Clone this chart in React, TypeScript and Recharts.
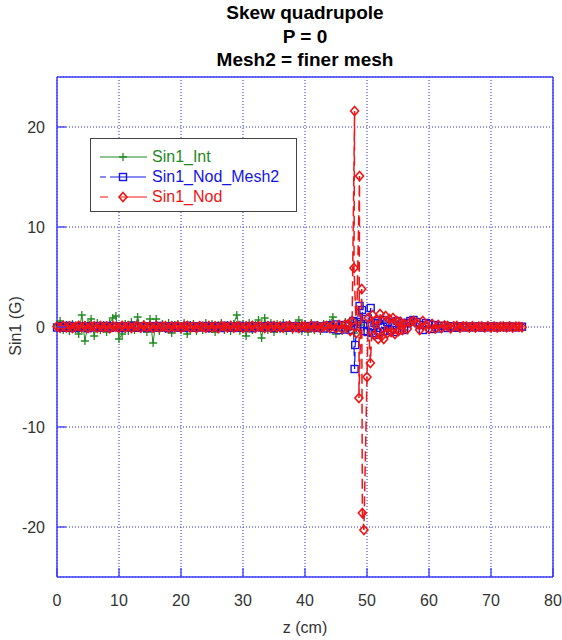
import React from "react";
import { ScatterChart, Scatter, XAxis, YAxis, CartesianGrid, Legend } from "recharts";

// z step of the exported mesh nodes (cm)
const zStep = 0.5;

// Sin1_Int, z = 0 .. 49
const intStart = 0;
const sin1Int = [
  0.1, 0.6, -0.3, 0.2, -0.4, 0.3, -0.2, -0.7, 1.2, -1.4,
  0.3, 0.8, -0.9, 0.4, -0.3, 0.2, -0.5, 0.4, 0.9, 1.1,
  -1.2, -0.7, 0.3, -0.4, 0.5, -0.3, 1.0, -0.2, 0.3, -0.5,
  0.8, -1.6, 0.8, -0.4, 0.3, -0.2, 0.4, -0.6, 0.2, 0.3,
  -0.3, 0.4, -0.7, 0.2, 0.3, -0.4, 0.2, -0.3, 0.4, -0.2,
  0.3, -0.5, 0.2, 0.4, -0.3, 0.2, -0.4, 0.3, 1.2, -0.4,
  0.3, -0.9, 0.4, -0.3, 0.2, 0.7, -1.1, 0.9, -0.3, 0.4,
  -0.5, 0.3, -0.2, 0.4, -0.4, 0.3, -0.3, 0.2, 0.7, -0.4,
  0.3, -0.5, 0.4, -0.3, 0.2, -0.4, 0.3, -0.2, 0.4, 1.0,
  -0.7, 0.3, -0.4, 0.5, -0.3, 0.4, -0.6, 0.5, 0.2,
];

// Sin1_Nod, left part z = 0 .. 46.5
const nodLeftStart = 0;
const sin1NodLeft = [
  0.05, -0.08, 0.1, -0.05, 0.08, -0.1, 0.04, 0.12, -0.06, 0.09,
  -0.11, 0.05, 0.07, -0.09, 0.1, -0.04, 0.06, -0.12, 0.08, 0.03,
  -0.07, 0.11, -0.05, 0.09, -0.1, 0.04, 0.07, -0.08, 0.12, -0.03,
  0.06, -0.09, 0.1, -0.06, 0.05, 0.08, -0.11, 0.07, -0.04, 0.09,
  -0.08, 0.05, 0.11, -0.07, 0.06, -0.1, 0.08, 0.03, -0.09, 0.1,
  -0.05, 0.07, -0.12, 0.09, 0.04, -0.06, 0.11, -0.08, 0.05, 0.07,
  -0.1, 0.06, -0.04, 0.12, -0.07, 0.08, 0.05, -0.11, 0.09, -0.06,
  0.1, -0.03, 0.07, -0.09, 0.06, 0.11, -0.08, 0.04, -0.1, 0.09,
  0.05, -0.07, 0.12, -0.05, 0.08, -0.11, 0.06, 0.1, -0.08, 0.15,
  -0.12, 0.2, -0.18, 0.25,
];
// Sin1_Nod around the quadrupole edge (nodes are not sorted)
const nodSpikeZ = [
  47.0, 47.3, 47.6, 48.0, 47.9, 48.3, 48.8, 48.7, 49.15, 49.25,
  49.5, 50.0, 50.2, 50.55, 50.9, 51.2, 51.5, 51.8, 52.1, 52.4,
  52.7, 53.0, 53.3, 53.6, 53.9, 54.2, 54.5, 54.8, 55.1, 55.4, 55.7,
];
const sin1NodSpike = [
  0.3, -0.4, 0.6, 21.6, 5.9, -0.6, 15.1, -7.1, 3.8, -18.6,
  -20.3, -5.0, 0.9, -3.6, 1.2, -0.8, 0.7, -1.2, 1.3, -0.9,
  -1.2, 1.1, -0.6, 0.8, -0.5, 0.9, -0.7, 0.6, -0.4, 0.5, -0.3,
];
// Sin1_Nod, right part z = 56 .. 75
const nodRightStart = 56;
const sin1NodRight = [
  0.3, -0.2, 0.5, 0.6, 0.4, -0.3, 0.6, 0.2, -0.2, 0.3,
  -0.15, 0.2, -0.1, 0.15, 0.1, -0.12, 0.08, 0.1, -0.08, 0.06,
  0.05, -0.06, 0.08, -0.05, 0.04, 0.06, -0.05, 0.07, -0.04, 0.05,
  -0.06, 0.04, 0.05, -0.03, 0.06, -0.05, 0.04, 0.03, -0.02,
];

// Sin1_Nod_Mesh2
const mesh2Left = [
  -0.05, 0.1, -0.08, 0.06, 0.12, -0.1, 0.04, -0.07, 0.09, 0.05,
  -0.12, 0.08, -0.04, 0.1, -0.06, 0.07, 0.11, -0.09, 0.05, -0.03,
  0.08, -0.11, 0.06, 0.09, -0.05, 0.12, -0.08, 0.04, 0.07, -0.1,
  0.05, 0.09, -0.06, 0.11, -0.04, 0.08, -0.12, 0.06, 0.1, -0.07,
  0.04, -0.09, 0.12, 0.05, -0.08, 0.07, -0.05, 0.1, 0.06, -0.11,
  0.09, -0.04, 0.08, -0.1, 0.12, 0.05, -0.07, 0.06, -0.09, 0.11,
  0.04, -0.06, 0.1, -0.12, 0.07, 0.09, -0.05, 0.08, -0.04, 0.12,
  -0.1, 0.06, 0.05, -0.08, 0.11, -0.07, 0.09, 0.04, -0.11, 0.08,
  -0.06, 0.1, -0.05, 0.14, -0.1, 0.07, -0.15, 0.12, 0.18, -0.2,
  0.25, -0.3, 0.2, -0.25,
];
const mesh2SpikeZ = [
  47.0, 47.4, 47.8, 48.0, 48.1, 48.4, 48.8, 49.0, 49.2, 49.5,
  49.8, 50.1, 50.6, 50.9, 51.2, 51.5, 51.8, 52.1, 52.5, 52.9,
  53.3, 53.7, 54.1, 54.5, 54.9, 55.3, 55.7,
];
const mesh2Spike = [
  0.1, -0.3, 0.6, -4.2, -1.8, 0.5, 2.1, 0.3, 1.7, -0.4,
  0.8, -0.5, 1.9, -0.6, 0.4, -0.8, 0.6, -0.5, 0.7, -0.4,
  0.5, -0.3, 0.4, -0.5, 0.6, -0.3, 0.4,
];
const mesh2Right = [
  -0.3, 0.4, 0.6, 0.7, 0.5, 0.2, -0.3, 0.4, 0.3, -0.2,
  0.2, -0.15, 0.12, 0.1, -0.1, 0.08, 0.06, -0.08, 0.05, 0.07,
  -0.05, 0.06, -0.04, 0.05, 0.04, -0.06, 0.05, -0.03, 0.04, 0.06,
  -0.05, 0.03, 0.04, -0.04, 0.05, 0.03, -0.04, 0.02, 0.03,
];

const xTicks = [0, 10, 20, 30, 40, 50, 60, 70, 80];
const yTicks = [-20, -10, 0, 10, 20];

const GREEN = "#1f8a1f";
const BLUE = "#1414e6";
const RED = "#f01414";
const AXIS = "#3c3cff";
const GRID = "#2a2ad8";
const FONT = "'Liberation Sans', Arial, sans-serif";

const onGrid = (start: number, vals: number[]) => vals.map((v, i) => ({ z: start + i * zStep, v }));
const paired = (zs: number[], vals: number[]) => zs.map((z, i) => ({ z, v: vals[i] }));

const intData = onGrid(intStart, sin1Int);
const nodData = [
  ...onGrid(nodLeftStart, sin1NodLeft),
  ...paired(nodSpikeZ, sin1NodSpike),
  ...onGrid(nodRightStart, sin1NodRight),
];
const mesh2Data = [
  ...onGrid(nodLeftStart, mesh2Left),
  ...paired(mesh2SpikeZ, mesh2Spike),
  ...onGrid(nodRightStart, mesh2Right),
];

const Cross = ({ cx, cy }: any) => (
  <path d={`M${cx - 4},${cy}H${cx + 4}M${cx},${cy - 4}V${cy + 4}`} stroke={GREEN} strokeWidth={1.3} fill="none" />
);
const Square = ({ cx, cy }: any) => (
  <rect x={cx - 3.5} y={cy - 3.5} width={7} height={7} stroke={BLUE} strokeWidth={1.4} fill="none" />
);
const Diamond = ({ cx, cy }: any) => (
  <path d={`M${cx},${cy - 4.5}L${cx + 4},${cy}L${cx},${cy + 4.5}L${cx - 4},${cy}Z`} stroke={RED} strokeWidth={1.6} fill="none" />
);

const BottomTick = ({ x, y, payload }: any) => (
  <g>
    <line x1={x} y1={y} x2={x} y2={y - 9} stroke={AXIS} strokeWidth={1.3} />
    <text x={x} y={y + 29} textAnchor="middle" fontSize={16} fill="#333" fontFamily={FONT}>
      {payload.value}
    </text>
  </g>
);
const LeftTick = ({ x, y, payload }: any) => (
  <g>
    <line x1={x} y1={y} x2={x + 9} y2={y} stroke={AXIS} strokeWidth={1.3} />
    <text x={x - 12} y={y + 6} textAnchor="end" fontSize={16} fill="#333" fontFamily={FONT}>
      {payload.value}
    </text>
  </g>
);
const TopTick = ({ x, y }: any) => <line x1={x} y1={y} x2={x} y2={y + 9} stroke={AXIS} strokeWidth={1.3} />;
const RightTick = ({ x, y }: any) => <line x1={x} y1={y} x2={x - 9} y2={y} stroke={AXIS} strokeWidth={1.3} />;

const legendItems = [
  { name: "Sin1_Int", color: GREEN, dash: undefined, mark: "cross" },
  { name: "Sin1_Nod_Mesh2", color: BLUE, dash: "6 4 30 0", mark: "square" },
  { name: "Sin1_Nod", color: RED, dash: "8 12 28 0", mark: "diamond" },
];

const LegendBox = () => (
  <div
    style={{
      border: "1px solid #444",
      background: "#fff",
      width: 207,
      height: 74,
      boxSizing: "border-box",
      paddingTop: 8,
      fontFamily: FONT,
      fontSize: 16,
    }}
  >
    {legendItems.map((it) => (
      <div key={it.name} style={{ display: "flex", alignItems: "center", height: 20, color: it.color }}>
        <svg width={53} height={14} style={{ marginLeft: 8 }}>
          <line x1={1} y1={7} x2={48} y2={7} stroke={it.color} strokeDasharray={it.dash} />
          {it.mark === "cross" && <Cross cx={24} cy={7} />}
          {it.mark === "square" && <Square cx={24} cy={7} />}
          {it.mark === "diamond" && <Diamond cx={24} cy={7} />}
        </svg>
        <span>{it.name}</span>
      </div>
    ))}
  </div>
);

export default function App() {
  return (
    <div style={{ position: "absolute", left: 0, top: 0, width: 562, height: 640, fontFamily: FONT, background: "#fff" }}>
      <div
        style={{
          position: "absolute",
          left: 57,
          width: 496,
          top: 1,
          textAlign: "center",
          fontWeight: "bold",
          fontSize: 19,
          lineHeight: "23.5px",
          color: "#000",
        }}
      >
        <div>Skew quadrupole</div>
        <div>P = 0</div>
        <div>Mesh2 = finer mesh</div>
      </div>
      <div
        style={{
          position: "absolute",
          left: 16,
          top: 326,
          transform: "translate(-50%, -50%) rotate(-90deg)",
          fontSize: 16,
          color: "#333",
          whiteSpace: "nowrap",
        }}
      >
        Sin1 (G)
      </div>
      <ScatterChart width={562} height={640} margin={{ top: 76, right: 8, bottom: 62, left: 56 }}>
        <CartesianGrid stroke={GRID} strokeDasharray="1 2" />
        <XAxis
          xAxisId={0}
          type="number"
          dataKey="z"
          domain={[0, 80]}
          ticks={xTicks}
          height={1}
          tickSize={0}
          tickMargin={0}
          tickLine={false}
          tick={<BottomTick />}
          stroke={AXIS}
          strokeWidth={1.5}
          label={{ value: "z (cm)", position: "bottom", offset: 44, fontSize: 16, fill: "#333", fontFamily: FONT }}
        />
        <XAxis
          xAxisId="top"
          orientation="top"
          type="number"
          domain={[0, 80]}
          ticks={xTicks}
          height={1}
          tickSize={0}
          tickMargin={0}
          tickLine={false}
          tick={<TopTick />}
          stroke={AXIS}
          strokeWidth={1.5}
        />
        <YAxis
          yAxisId={0}
          type="number"
          dataKey="v"
          domain={[-25, 25]}
          ticks={yTicks}
          width={1}
          tickSize={0}
          tickMargin={0}
          tickLine={false}
          tick={<LeftTick />}
          stroke={AXIS}
          strokeWidth={1.5}
        />
        <YAxis
          yAxisId="right"
          orientation="right"
          type="number"
          domain={[-25, 25]}
          ticks={yTicks}
          width={1}
          tickSize={0}
          tickMargin={0}
          tickLine={false}
          tick={<RightTick />}
          stroke={AXIS}
          strokeWidth={1.5}
        />
        <Legend
          layout="vertical"
          align="center"
          verticalAlign="middle"
          content={<LegendBox />}
          wrapperStyle={{ left: 90, top: 138, width: 207, height: 74 }}
        />
        <Scatter
          name="Sin1_Int"
          data={intData}
          line={{ stroke: GREEN, strokeWidth: 1 }}
          shape={<Cross />}
          isAnimationActive={false}
        />
        <Scatter
          name="Sin1_Nod_Mesh2"
          data={mesh2Data}
          line={{ stroke: BLUE, strokeWidth: 1.2, strokeDasharray: "10 5" }}
          shape={<Square />}
          isAnimationActive={false}
        />
        <Scatter
          name="Sin1_Nod"
          data={nodData}
          line={{ stroke: RED, strokeWidth: 1.5, strokeDasharray: "10 5" }}
          shape={<Diamond />}
          isAnimationActive={false}
        />
      </ScatterChart>
    </div>
  );
}
